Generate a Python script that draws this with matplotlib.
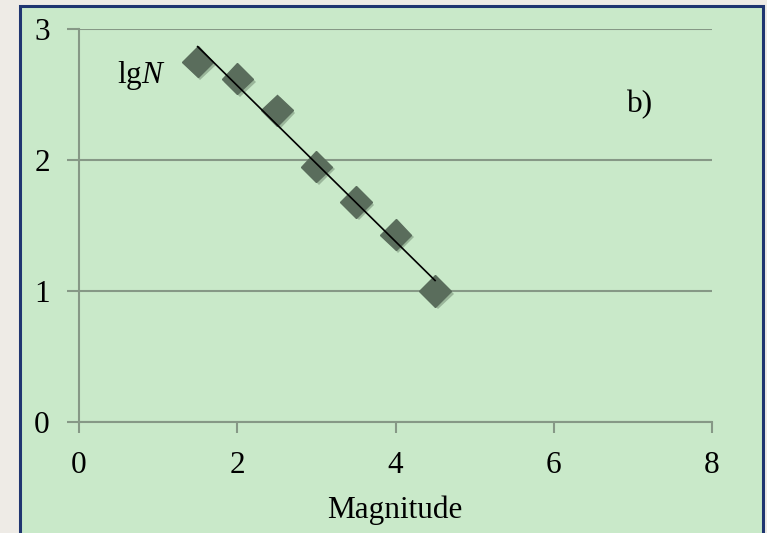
import numpy as np
import matplotlib
matplotlib.use("Agg")
import matplotlib.pyplot as plt
import matplotlib.patheffects as pe
from matplotlib.patches import Rectangle

plt.rcParams['font.family'] = ['Liberation Serif', 'DejaVu Serif']
plt.rcParams['mathtext.fontset'] = 'custom'
plt.rcParams['mathtext.rm'] = 'Liberation Serif'
plt.rcParams['mathtext.it'] = 'Liberation Serif:italic'

# data
magnitude = [1.5, 2.0, 2.5, 3.0, 3.5, 4.0, 4.5]
lgN = [2.75, 2.62, 2.38, 1.95, 1.68, 1.43, 1.00]
x_ticks = [0, 2, 4, 6, 8]
y_ticks = [0, 1, 2, 3]

W, H = 767, 533
FS = 22.5
fig = plt.figure(figsize=(W / 100, H / 100), dpi=100)
fig.patch.set_facecolor('#eeebe6')

# green panel with dark blue frame
panel = Rectangle((20 / W, -0.01), 743 / W, (H - 6) / H + 0.01, transform=fig.transFigure,
                  facecolor='#c9e9c9', edgecolor='#1f3570', linewidth=2.2, zorder=-10)
fig.patches.append(panel)

ax = fig.add_axes([79 / W, 1 - 422 / H, 633 / W, 393 / H])
ax.set_facecolor('none')
ax.set_xlim(0, 8)
ax.set_ylim(0, 3)
ax.set_xticks(x_ticks)
ax.set_yticks(y_ticks)

grid_c = '#869886'
ax.grid(axis='y', color=grid_c, linewidth=1.5)
ax.set_axisbelow(True)
for side in ['top', 'right']:
    ax.spines[side].set_visible(False)
for side in ['left', 'bottom']:
    ax.spines[side].set_color(grid_c)
    ax.spines[side].set_linewidth(1.5)
ax.tick_params(axis='y', direction='out', length=9, width=1.5, color=grid_c,
               labelsize=FS, pad=12)
ax.tick_params(axis='x', direction='out', length=8, width=1.5, color=grid_c,
               labelsize=FS, pad=13)

# data points
ax.plot(magnitude, lgN, linestyle='none', marker='D', markersize=16,
        markerfacecolor='#5a6d5c', markeredgecolor='#5a6d5c', zorder=3,
        path_effects=[pe.SimplePatchShadow(offset=(2, -2), shadow_rgbFace='#304030', alpha=0.3),
                      pe.Normal()])

# linear trend line
k, b = np.polyfit(magnitude, lgN, 1)
xs = np.array([magnitude[0], magnitude[-1]])
ax.plot(xs, k * xs + b, color='black', linewidth=1.2, zorder=4)

fig.text(117 / W, 1 - 83 / H, r'lg$N$', fontsize=FS, ha='left', va='baseline')
fig.text(627 / W, 1 - 112 / H, 'b)', fontsize=FS, ha='left', va='baseline')

fig.text(395 / W, 1 - 518 / H, 'Magnitude', fontsize=FS, ha='center', va='baseline')

fig.savefig('out.png', dpi=100, facecolor=fig.get_facecolor())
